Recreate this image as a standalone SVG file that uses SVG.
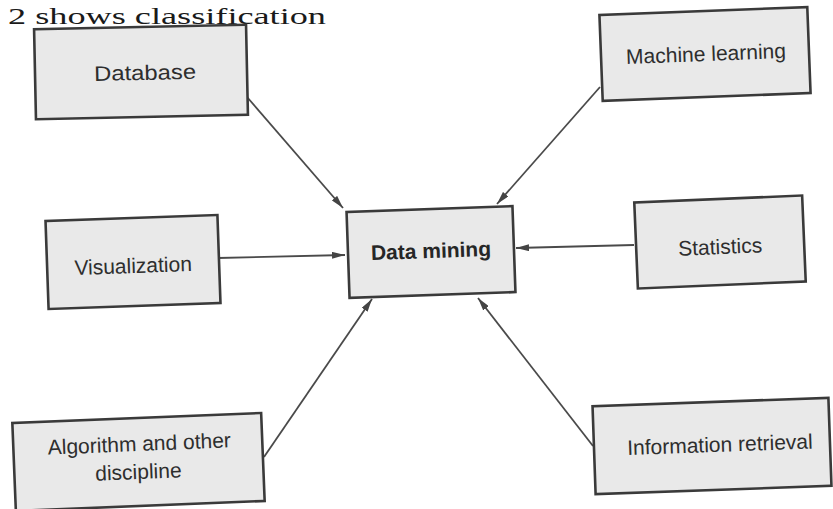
<svg xmlns="http://www.w3.org/2000/svg" width="833" height="509" viewBox="0 0 833 509">
<defs>
<style>
.box{fill:#e9e9e9;stroke:#3a3a3a;stroke-width:2.6}
.lbl{font-family:"Liberation Sans",Arial,sans-serif;font-size:21px;fill:#2e2e2e;text-anchor:middle}
.bold{font-weight:bold;fill:#262626}
.conn{stroke:#4a4a4a;stroke-width:1.8;fill:none;marker-end:url(#ah)}
.hdr{font-family:"Liberation Serif","Times New Roman",serif;font-size:24px;fill:#1a1a1a}
</style>
<marker id="ah" markerWidth="13" markerHeight="7" refX="13" refY="3.5" orient="auto" markerUnits="userSpaceOnUse">
<path d="M0,0 L13,3.5 L0,7 z" fill="#444"/>
</marker>
</defs>
<rect width="833" height="509" fill="#ffffff"/>
<text class="hdr" x="8" y="24" textLength="318" lengthAdjust="spacingAndGlyphs">2 shows classification</text>
<g id="connectors">
<line class="conn" x1="247" y1="97" x2="343" y2="208"/>
<line class="conn" x1="600" y1="87" x2="497" y2="204"/>
<line class="conn" x1="218" y1="258" x2="345" y2="255"/>
<line class="conn" x1="634" y1="245" x2="516" y2="248"/>
<line class="conn" x1="264" y1="457" x2="372" y2="299"/>
<line class="conn" x1="593" y1="446" x2="478" y2="298"/>
</g>
<g id="database" transform="rotate(-1.2 141 72)">
<rect class="box" x="35" y="27" width="212" height="90"/>
<text class="lbl" x="145" y="80" textLength="102" lengthAdjust="spacingAndGlyphs">Database</text>
</g>
<g id="machine-learning" transform="rotate(-2.2 705 54)">
<rect class="box" x="601" y="11" width="208" height="86"/>
<text class="lbl" x="706" y="61">Machine learning</text>
</g>
<g id="visualization" transform="rotate(-2 133 262)">
<rect class="box" x="47" y="218" width="172" height="88"/>
<text class="lbl" x="133" y="273">Visualization</text>
</g>
<g id="data-mining" transform="rotate(-2 431 252)">
<rect class="box" x="348" y="209" width="166" height="86"/>
<text class="lbl bold" x="431" y="258">Data mining</text>
</g>
<g id="statistics" transform="rotate(-2.4 720 242)">
<rect class="box" x="636" y="199" width="168" height="86"/>
<text class="lbl" x="720" y="254">Statistics</text>
</g>
<g id="algorithm" transform="rotate(-2.3 138 462)">
<rect class="box" x="14" y="418" width="249" height="88"/>
<text class="lbl" x="140" y="451">Algorithm and other</text>
<text class="lbl" x="138" y="479">discipline</text>
</g>
<g id="information-retrieval" transform="rotate(-2 712 446)">
<rect class="box" x="594" y="402" width="236" height="88"/>
<text class="lbl" x="720" y="452">Information retrieval</text>
</g>
</svg>
